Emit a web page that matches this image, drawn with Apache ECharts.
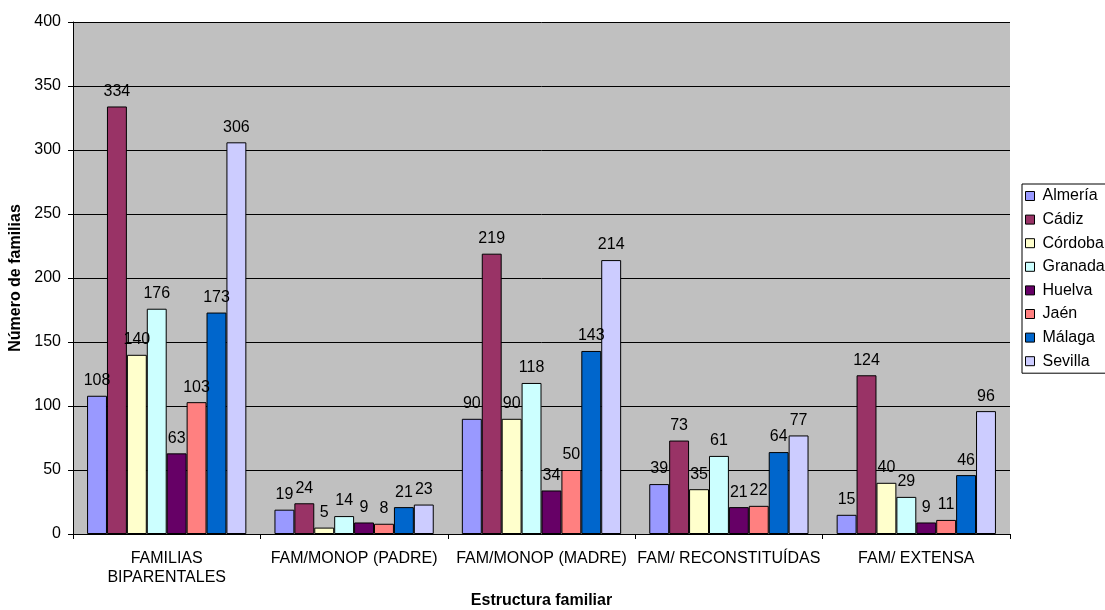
<!DOCTYPE html>
<html><head><meta charset="utf-8">
<script src="https://cdn.jsdelivr.net/npm/echarts@6/dist/echarts.min.js"></script>
<style>html,body{margin:0;padding:0;background:#fff}#c{width:1105px;height:610px}</style>
</head><body><div id="c"></div>
<script>
const categories = ['FAMILIAS\nBIPARENTALES', 'FAM/MONOP (PADRE)', 'FAM/MONOP (MADRE)', 'FAM/ RECONSTITUÍDAS', 'FAM/ EXTENSA'];
const seriesNames = ['Almería', 'Cádiz', 'Córdoba', 'Granada', 'Huelva', 'Jaén', 'Málaga', 'Sevilla'];
const almeria = [108, 19, 90, 39, 15];
const cadiz = [334, 24, 219, 73, 124];
const cordoba = [140, 5, 90, 35, 40];
const granada = [176, 14, 118, 61, 29];
const huelva = [63, 9, 34, 21, 9];
const jaen = [103, 8, 50, 22, 11];
const malaga = [173, 21, 143, 64, 46];
const sevilla = [306, 23, 214, 77, 96];
const yTicks = [0, 50, 100, 150, 200, 250, 300, 350, 400];

const values = [almeria, cadiz, cordoba, granada, huelva, jaen, malaga, sevilla];
const colors = ['#9999FF', '#993366', '#FFFFCC', '#CCFFFF', '#660066', '#FF8080', '#0066CC', '#CCCCFF'];
const font = 'Liberation Sans, Arial, sans-serif';
const fs = 16;

const chart = echarts.init(document.getElementById('c'));
chart.setOption({
  animation: false,
  textStyle: { fontFamily: font },
  legend: {
    orient: 'vertical', left: 1022, top: 184,
    itemWidth: 9, itemHeight: 9, itemGap: 7.6,
    borderColor: '#000', borderWidth: 1, padding: [4, 8, 4, 3],
    icon: 'rect',
    textStyle: { fontFamily: font, fontSize: fs, lineHeight: 16, color: '#000', padding: [0, 0, 0, 3] },
    itemStyle: { borderColor: '#000', borderWidth: 1 },
    data: seriesNames
  },
  grid: { left: 73, right: 95, top: 22, bottom: 76, backgroundColor: '#C0C0C0', show: true, borderWidth: 0, containLabel: false, outerBoundsMode: 'none' },
  xAxis: {
    type: 'category', data: categories,
    name: 'Estructura familiar', nameLocation: 'middle', nameGap: 59,
    nameTextStyle: { fontFamily: font, fontSize: 16, fontWeight: 'bold', color: '#000' },
    axisLine: { lineStyle: { color: '#000', width: 1 } },
    axisTick: { show: true, alignWithLabel: false, length: 5, lineStyle: { color: '#000' } },
    axisLabel: { fontFamily: font, fontSize: fs, color: '#000', margin: 15, lineHeight: 19, interval: 0 }
  },
  yAxis: {
    type: 'value', min: yTicks[0], max: yTicks[yTicks.length - 1], interval: 50,
    name: 'Número de familias', nameLocation: 'middle', nameGap: 44, nameRotate: 90,
    nameTextStyle: { fontFamily: font, fontSize: 16, fontWeight: 'bold', color: '#000' },
    axisLine: { show: true, lineStyle: { color: '#000', width: 1 } },
    axisTick: { show: true, length: 5, lineStyle: { color: '#000' } },
    axisLabel: { fontFamily: font, fontSize: fs, color: '#000', margin: 12 },
    splitLine: { lineStyle: { color: '#000', width: 1 } }
  },
  series: seriesNames.map((n, i) => ({
    name: n, type: 'bar', data: values[i],
    barGap: '0%', barCategoryGap: '15%',
    itemStyle: { color: colors[i], borderColor: '#000', borderWidth: 1 },
    label: { show: true, position: 'top', distance: 7, fontFamily: font, fontSize: fs, color: '#000' }
  }))
});
</script></body></html>
